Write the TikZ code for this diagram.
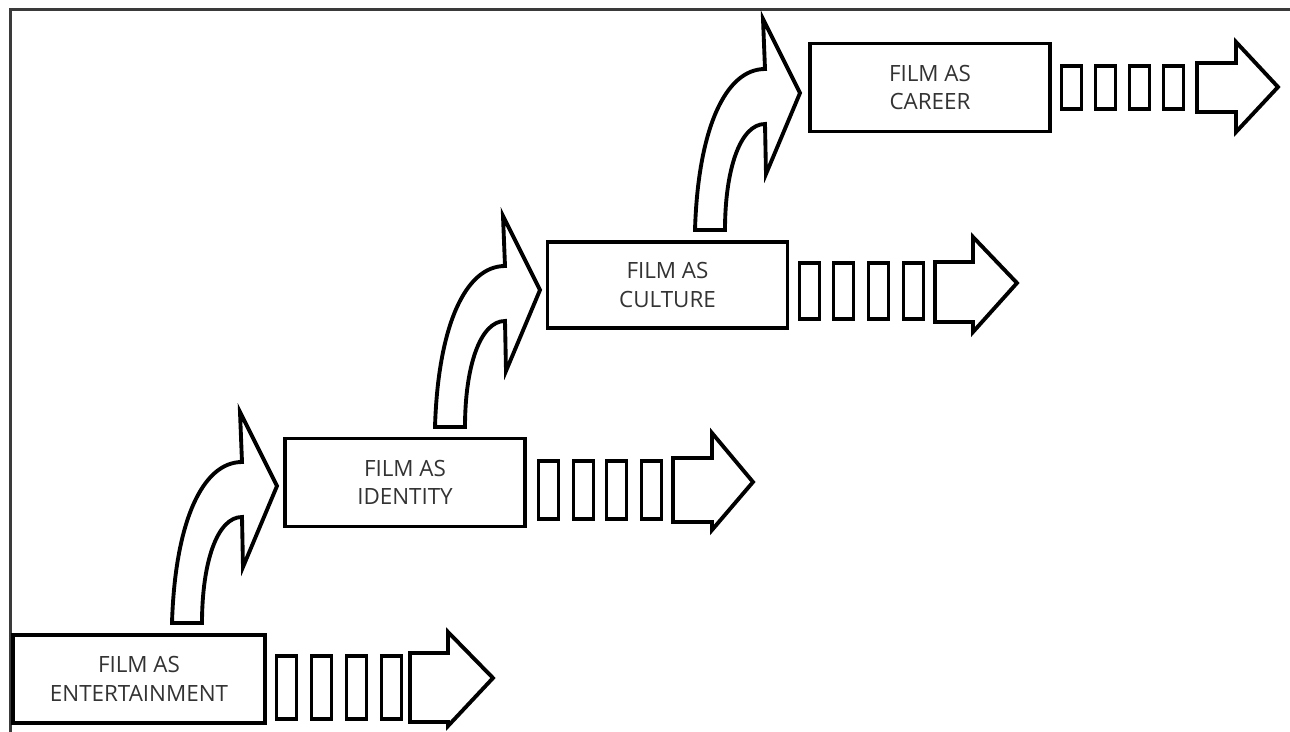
\documentclass[tikz,border=0pt]{standalone}
\usepackage{fontspec}
\setmainfont{Open Sans}
\definecolor{txt}{HTML}{333333}
\definecolor{framec}{HTML}{3A3A3A}
\tikzset{
  blockline/.style={draw=black, line width=2.9pt, fill=white, line join=miter},
  stagebox/.style={draw=black, line width=2.9pt, fill=white, minimum width=180pt, minimum height=66pt,
    inner sep=0pt, align=center, font=\fontsize{16.8}{21.5}\selectfont, text=txt},
  curvearrow/.pic={
    \path[blockline] (0,0) -- (30,0) .. controls (30,-60) and (45,-106) .. (70,-106)
      -- (71,-56) -- (105,-137) -- (68,-211) -- (70,-161)
      .. controls (30,-161) and (3,-100) .. (0,0) -- cycle;
  }
}
\newcommand\sqrow[3]{\foreach \sx in {#1} {\path[blockline] (\sx+1.5,#2+1) rectangle (\sx+21.5,#3-1);}}
\begin{document}
\begin{tikzpicture}[x=0.75pt,y=-0.75pt]
\useasboundingbox (0,0) rectangle (1290,732);
\fill[white] (0,0) rectangle (1290,732);
% frame
\draw[framec, line width=2.25pt] (1290,9.7) -- (10.7,9.7) -- (10.7,732);

% boxes
\node[stagebox, minimum width=189pt] (b1) at (139,679) {FILM AS\\ENTERTAINMENT};
\node[stagebox] (b2) at (405,482.5) {FILM AS\\IDENTITY};
\node[stagebox, minimum height=64.5pt] (b3) at (667.5,285) {FILM AS\\CULTURE};
\node[stagebox] (b4) at (930,87.5) {FILM AS\\CAREER};

% curved arrows between stages
\pic at (172,623) {curvearrow};
\pic at (435,427) {curvearrow};
\pic at (695,230) {curvearrow};

% chain 1
\sqrow{275,310,345,380}{655}{720}
\path[blockline] (410,653) -- (448,653) -- (448,632) -- (493,678) -- (448,726) -- (448,722) -- (410,722) -- cycle;
% chain 2
\sqrow{537,572,605,640}{460}{520}
\path[blockline] (673,458) -- (712,458) -- (712,433) -- (753,482) -- (712,530) -- (712,522) -- (673,522) -- cycle;
% chain 3
\sqrow{798,832,867,902}{262}{320}
\path[blockline] (935,262) -- (973,262) -- (973,237) -- (1017,283) -- (973,332) -- (973,322) -- (935,322) -- cycle;
% chain 4
\sqrow{1060,1094,1128,1162}{65}{110}
\path[blockline] (1197,63) -- (1236,63) -- (1236,42) -- (1278,87) -- (1236,132) -- (1236,112) -- (1197,112) -- cycle;
\end{tikzpicture}
\end{document}
